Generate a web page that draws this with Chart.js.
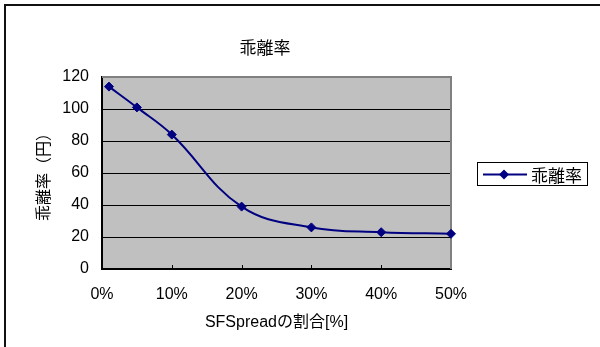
<!DOCTYPE html>
<html>
<head>
<meta charset="utf-8">
<script src="https://cdn.jsdelivr.net/npm/chart.js@4/dist/chart.umd.min.js"></script>
<style>
  html, body { margin: 0; padding: 0; background: #fff; }
  #wrap { position: relative; width: 600px; height: 347px; overflow: hidden; background: #fff; }
  #frame { position: absolute; left: 4px; top: 4px; width: 800px; height: 600px; border: 2px solid #111; box-sizing: border-box; }
  #c { position: absolute; left: 0; top: 0; }
  #title { position: absolute; left: 0; top: 38px; width: 530px; text-align: center;
           font: 17px/17px 'Noto Sans CJK JP', sans-serif; color: #000; }
  #legend { position: absolute; left: 477px; top: 162px; width: 111px; height: 24px;
            border: 1px solid #000; box-sizing: border-box; background: #fff; }
  #legend svg { position: absolute; left: 5px; top: 5px; }
  #legend span { position: absolute; left: 53px; top: 3px; font: 17px/17px 'Noto Sans CJK JP', sans-serif; color: #000; }
</style>
</head>
<body>
<div id="wrap">
  <div id="frame"></div>
  <canvas id="c" width="600" height="347"></canvas>
  <div id="title"></div>
  <div id="legend">
    <svg width="44" height="13" viewBox="0 0 44 13">
      <line x1="0" y1="6.5" x2="44" y2="6.5" stroke="#000080" stroke-width="2"/>
      <polygon points="21,1.5 26,6.5 21,11.5 16,6.5" fill="#000080"/>
    </svg>
    <span id="legendText"></span>
  </div>
</div>
<script>
// SFSpread share (%) and the resulting deviation (yen)
const spreadShare = [1, 5, 10, 20, 30, 40, 50];
const deviation = [114, 101, 84, 39, 26, 23, 22];

const seriesName = '乖離率';
const chartTitle = '乖離率';
const xTitle = 'SFSpreadの割合[%]';
const yTitle = '乖離率（円）';

const xTicks = [0, 10, 20, 30, 40, 50];
const yTicks = [0, 20, 40, 60, 80, 100, 120];

const fontFamily = "'Liberation Sans', 'Noto Sans CJK JP', sans-serif";
const lineColor = '#000080';

document.getElementById('title').textContent = chartTitle;
document.getElementById('legendText').textContent = seriesName;

// Gray plot background, gray top/right edges and inward tick marks on the x axis
const plotFrame = {
  id: 'plotFrame',
  beforeDraw(chart) {
    const { ctx, chartArea: a } = chart;
    ctx.save();
    ctx.fillStyle = '#c0c0c0';
    ctx.fillRect(a.left, a.top, a.right - a.left, a.bottom - a.top);
    ctx.restore();
  },
  beforeDatasetsDraw(chart) {
    const { ctx, chartArea: a, scales } = chart;
    ctx.save();
    ctx.strokeStyle = '#808080';
    ctx.lineWidth = 2;
    ctx.beginPath();
    ctx.moveTo(a.left, a.top);
    ctx.lineTo(a.right, a.top);
    ctx.lineTo(a.right, a.bottom);
    ctx.stroke();
    ctx.strokeStyle = '#000';
    ctx.lineWidth = 1;
    ctx.beginPath();
    xTicks.slice(1, -1).forEach(v => {
      const px = Math.round(scales.x.getPixelForValue(v)) + 0.5;
      ctx.moveTo(px, a.bottom);
      ctx.lineTo(px, a.bottom - 4);
    });
    ctx.stroke();
    ctx.restore();
  }
};

new Chart(document.getElementById('c'), {
  type: 'line',
  data: {
    datasets: [{
      label: seriesName,
      data: spreadShare.map((x, i) => ({ x, y: deviation[i] })),
      borderColor: lineColor,
      backgroundColor: lineColor,
      borderWidth: 2,
      tension: 0.4,
      pointStyle: 'rectRot',
      pointRadius: 4.5,
      pointBorderWidth: 1,
      pointBackgroundColor: lineColor,
      pointBorderColor: lineColor,
      clip: false
    }]
  },
  options: {
    responsive: false,
    devicePixelRatio: 1,
    animation: false,
    layout: { padding: { left: 0, top: 77, right: 149, bottom: 0 } },
    plugins: {
      legend: { display: false },
      title: { display: false },
      tooltip: { enabled: false }
    },
    scales: {
      x: {
        type: 'linear',
        min: 0,
        max: 50,
        afterFit(scale) { scale.height = 78; },
        afterBuildTicks(scale) { scale.ticks = xTicks.map(v => ({ value: v })); },
        ticks: {
          padding: 16,
          color: '#000',
          font: { family: fontFamily, size: 16 },
          callback: v => v + '%'
        },
        grid: { drawOnChartArea: false, drawTicks: false },
        border: { display: true, color: '#000', width: 2 },
        title: {
          display: true,
          text: xTitle,
          color: '#000',
          font: { family: fontFamily, size: 16 },
          padding: { top: 0, bottom: 15 }
        }
      },
      y: {
        min: 0,
        max: 120,
        afterFit(scale) { scale.width = 102; },
        afterBuildTicks(scale) { scale.ticks = yTicks.map(v => ({ value: v })); },
        ticks: {
          padding: 13,
          color: '#000',
          font: { family: fontFamily, size: 16 }
        },
        grid: {
          drawTicks: false,
          lineWidth: 1,
          color: ctx => (ctx.tick && ctx.tick.value === 120) ? '#808080' : '#000'
        },
        border: { display: true, color: '#000', width: 2 },
        title: {
          display: true,
          text: yTitle,
          color: '#000',
          font: { family: fontFamily, size: 16 },
          padding: { top: 35, bottom: 0 }
        }
      }
    }
  },
  plugins: [plotFrame]
});
</script>
</body>
</html>
